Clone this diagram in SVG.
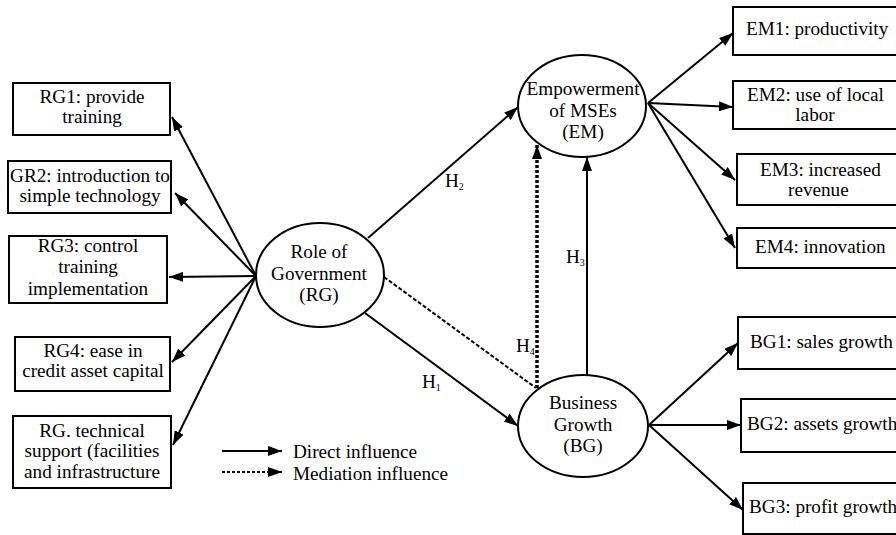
<svg xmlns="http://www.w3.org/2000/svg" width="896" height="535" viewBox="0 0 896 535" font-family="'Liberation Serif', 'Times New Roman', Times, 'DejaVu Serif', serif">
<defs>
<marker id="ah" viewBox="0 0 14 10" refX="14" refY="5" markerWidth="14" markerHeight="10" markerUnits="userSpaceOnUse" orient="auto">
<path d="M0,0 L14,5 L0,10 z" fill="#000"/>
</marker>
</defs>
<style>
text{font-family:'Liberation Serif','Times New Roman',Times,'DejaVu Serif',serif;font-size:19.2px;fill:#000}
.c{text-anchor:middle}
.box{fill:#fff;stroke:#000;stroke-width:2}
.ell{fill:#fff;stroke:#000;stroke-width:2}
.ln{fill:none;stroke:#000;stroke-width:2;marker-end:url(#ah)}
.dsh{fill:none;stroke:#000;stroke-width:2;stroke-dasharray:4 2}
.dot{fill:none;stroke:#000;stroke-width:3.5;stroke-dasharray:3 2;marker-end:url(#ah)}
.sub{font-size:10px}
</style>
<rect width="896" height="535" fill="#fff"/>

<g id="connectors">
<path class="ln" d="M256,276 L172,117"/>
<path class="ln" d="M256,276 L175,193"/>
<path class="ln" d="M256,276 L169,277"/>
<path class="ln" d="M256,276 L172,362"/>
<path class="ln" d="M256,276 L173,445"/>
<path class="ln" d="M368,238 L518,107"/>
<path class="ln" d="M365,313 L518,426"/>
<path class="ln" d="M587,375 L587,157"/>
<path class="dsh" d="M384,277 L536,388"/>
<path class="dot" d="M537,388 L537,145"/>
<path class="ln" d="M648,103 L733,33"/>
<path class="ln" d="M648,103 L733,107"/>
<path class="ln" d="M648,103 L735,180"/>
<path class="ln" d="M648,103 L735,248"/>
<path class="ln" d="M649,425 L738,343"/>
<path class="ln" d="M649,425 L741,425"/>
<path class="ln" d="M649,425 L743,510"/>
<text x="445" y="187">H<tspan class="sub" dy="3">2</tspan></text>
<text x="422" y="388">H<tspan class="sub" dy="3">1</tspan></text>
<text x="566" y="263">H<tspan class="sub" dy="3">3</tspan></text>
<text x="516" y="352">H<tspan class="sub" dy="3">4</tspan></text>
</g>

<g id="RG1"><rect class="box" x="13" y="83" width="157" height="52"/>
<text class="c" x="92" y="103">RG1: provide</text><text class="c" x="92" y="123">training</text></g>
<g id="GR2"><rect class="box" x="8" y="161" width="163" height="52"/>
<text class="c" x="90" y="182">GR2: introduction to</text><text class="c" x="90" y="202">simple technology</text></g>
<g id="RG3"><rect class="box" x="9" y="236" width="158" height="67"/>
<text class="c" x="88" y="252">RG3: control</text><text class="c" x="88" y="273">training</text><text class="c" x="88" y="295">implementation</text></g>
<g id="RG4"><rect class="box" x="15" y="337" width="155" height="54"/>
<text class="c" x="93" y="357">RG4: ease in</text><text class="c" x="93" y="377">credit asset capital</text></g>
<g id="RG5"><rect class="box" x="13" y="416" width="158" height="72"/>
<text class="c" x="92" y="437">RG. technical</text><text class="c" x="92" y="457">support (facilities</text><text class="c" x="92" y="478">and infrastructure</text></g>

<g id="RG"><ellipse class="ell" cx="320" cy="275" rx="64" ry="52"/>
<text class="c" x="319" y="258">Role of</text><text class="c" x="319" y="280">Government</text><text class="c" x="319" y="301">(RG)</text></g>
<g id="EM"><ellipse class="ell" cx="582" cy="106" rx="64" ry="51"/>
<text class="c" x="583" y="95">Empowerment</text><text class="c" x="583" y="117">of MSEs</text><text class="c" x="583" y="138">(EM)</text></g>
<g id="BG"><ellipse class="ell" cx="583" cy="426" rx="65" ry="51"/>
<text class="c" x="583" y="409">Business</text><text class="c" x="583" y="431">Growth</text><text class="c" x="583" y="452">(BG)</text></g>

<g id="EM1"><rect class="box" x="733" y="7" width="180" height="48"/>
<text x="746" y="35">EM1: productivity</text></g>
<g id="EM2"><rect class="box" x="733" y="81" width="180" height="48"/>
<text x="747" y="101">EM2: use of local</text><text class="c" x="815" y="121">labor</text></g>
<g id="EM3"><rect class="box" x="737" y="154" width="180" height="51"/>
<text x="760" y="176">EM3: increased</text><text x="788" y="196">revenue</text></g>
<g id="EM4"><rect class="box" x="737" y="228" width="180" height="40"/>
<text x="755" y="253">EM4: innovation</text></g>
<g id="BG1"><rect class="box" x="738" y="317" width="180" height="52"/>
<text x="750" y="348">BG1: sales growth</text></g>
<g id="BG2"><rect class="box" x="741" y="399" width="180" height="53"/>
<text x="747" y="430">BG2: assets growth</text></g>
<g id="BG3"><rect class="box" x="743" y="483" width="180" height="51"/>
<text x="749" y="513">BG3: profit growth</text></g>

<g id="legend">
<path class="ln" d="M222,451 L282,451"/>
<path d="M222,472 L272,472" fill="none" stroke="#000" stroke-width="2" stroke-dasharray="3 2"/>
<path class="ln" d="M272,472 L282,472"/>
<text x="293" y="458">Direct influence</text>
<text x="293" y="480">Mediation influence</text>
</g>
</svg>
